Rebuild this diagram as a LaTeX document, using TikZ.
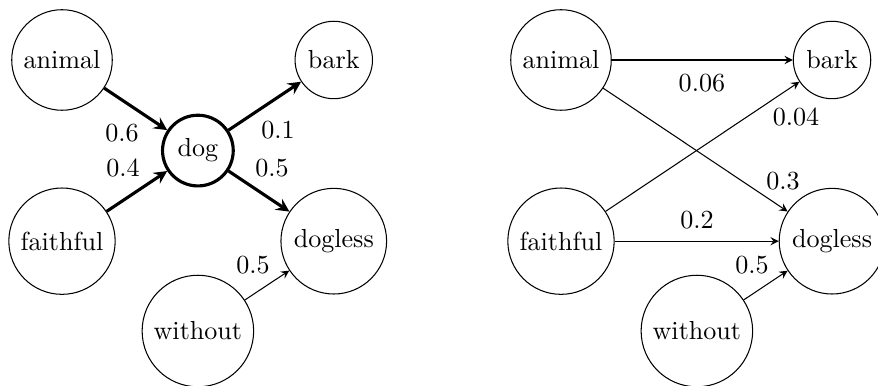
\documentclass[tikz,border=0pt]{standalone}
\usepackage{tikz}
\usetikzlibrary{arrows}

\begin{document}
\begin{tikzpicture}[word/.style={circle,draw},
  hub/.style={circle,draw,very thick},
  heavy/.style={-stealth,very thick},
  light/.style={-stealth}]
\useasboundingbox (-0.835,0.808) rectangle (10.989,-4.39);

% left: through dog
\node[word] (lanimal) at (0,0) {animal};
\node[word] (lbark) at (3.66,0) {bark};
\node[hub] (ldog) at (1.83,-1.22) {dog};
\node[word] (lfaithful) at (0,-2.44) {faithful};
\node[word] (ldogless) at (3.66,-2.44) {dogless};
\node[word] (lwithout) at (1.83,-3.65) {without};

\draw[heavy] (lanimal) -- (ldog);
\draw[heavy] (lfaithful) -- (ldog);
\draw[heavy] (ldog) -- (lbark);
\draw[heavy] (ldog) -- (ldogless);
\draw[light] (lwithout) -- (ldogless);

\node (w1) at (0.808,-0.983) {0.6};
\node (w2) at (0.821,-1.454) {0.4};
\node (w3) at (2.909,-0.943) {0.1};
\node (w4) at (2.828,-1.454) {0.5};
\node (w5) at (2.572,-2.761) {0.5};

% right: dog removed
\node[word] (ranimal) at (6.72,0) {animal};
\node[word] (rbark) at (10.37,0) {bark};
\node[word] (rfaithful) at (6.72,-2.44) {faithful};
\node[word] (rdogless) at (10.37,-2.44) {dogless};
\node[word] (rwithout) at (8.55,-3.65) {without};

\draw[light] (ranimal) -- (rbark);
\draw[light] (ranimal) -- (rdogless);
\draw[light] (rfaithful) -- (rbark);
\draw[light] (rfaithful) -- (rdogless);
\draw[light] (rwithout) -- (rdogless);

\node (v1) at (8.618,-0.310) {0.06};
\node (v2) at (9.884,-0.768) {0.04};
\node (v3) at (9.709,-1.629) {0.3};
\node (v4) at (8.551,-2.155) {0.2};
\node (v5) at (9.292,-2.761) {0.5};

\end{tikzpicture}
\end{document}
